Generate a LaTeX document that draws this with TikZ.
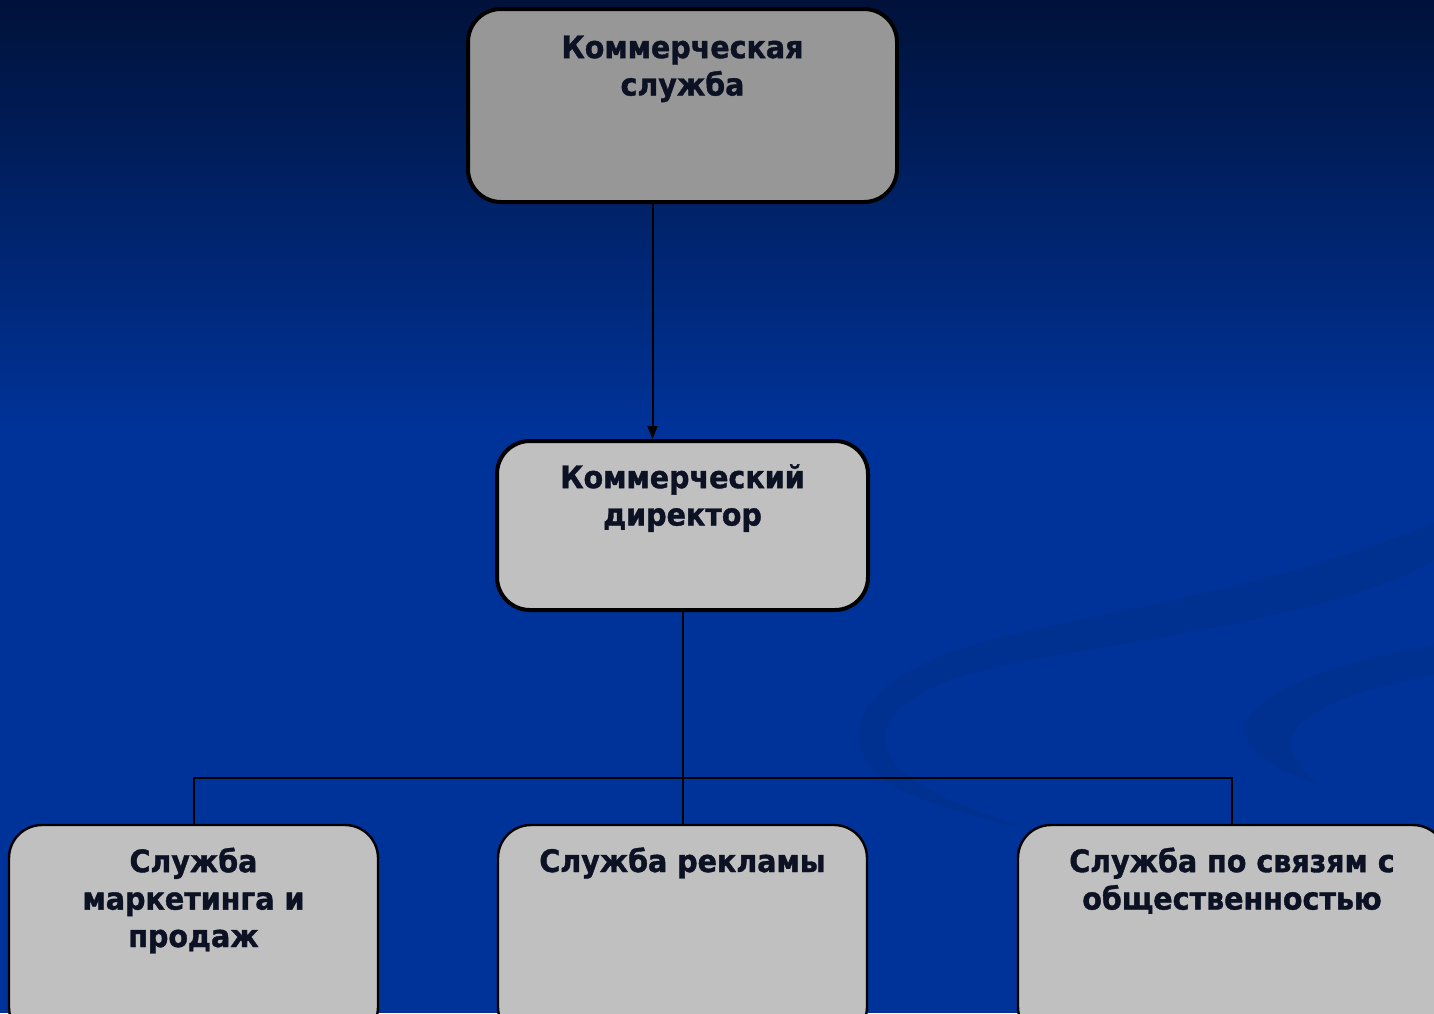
\documentclass[tikz,border=0pt]{standalone}
\usepackage{fontspec}
\setmainfont{DejaVu Sans}[FakeStretch=0.92, BoldFeatures={FakeBold=1.2}]
\usetikzlibrary{arrows.meta}
\definecolor{bgtop}{HTML}{00123A}
\definecolor{bgbot}{HTML}{003399}
\definecolor{swirl}{HTML}{003191}
\definecolor{boxdark}{HTML}{979797}
\definecolor{boxlight}{HTML}{C0C0C0}
\definecolor{txt}{HTML}{0C1224}
\tikzset{
  orgbox/.style={draw=black, rounded corners=16.5pt, inner sep=0pt, fill=boxlight},
  thickbox/.style={orgbox, line width=2pt},
  thinbox/.style={orgbox, line width=1.2pt},
  boxtext/.style={anchor=base, align=center, inner sep=0pt, text=txt,
    font=\fontsize{15.5pt}{18.7pt}\selectfont\bfseries},
  conn/.style={draw=black, line width=1pt},
  arrowconn/.style={conn, -{Triangle[length=6.5pt,width=5pt]}}
}
\begin{document}
\begin{tikzpicture}[x=0.5pt, y=-0.5pt]
\useasboundingbox (0,0) rectangle (1434,1013);
\clip (0,0) rectangle (1434,1013);
% background
\shade[top color=bgtop, bottom color=bgbot] (0,0) rectangle (1434,430);
\fill[bgbot] (0,429) rectangle (1434,1013);
% decorative swirls
\fill[swirl] (1434,523) .. controls (1250,598) and (1060,615) .. (950,652)
  .. controls (850,690) and (835,745) .. (890,785)
  .. controls (930,805) and (990,822) .. (1030,830)
  .. controls (990,815) and (910,790) .. (893,760)
  .. controls (868,720) and (905,685) .. (1020,662)
  .. controls (1150,638) and (1350,612) .. (1434,560) -- cycle;
\fill[swirl] (1434,645) .. controls (1340,660) and (1260,690) .. (1246,722)
  .. controls (1238,745) and (1270,770) .. (1320,785)
  .. controls (1300,770) and (1285,750) .. (1292,735)
  .. controls (1305,705) and (1380,685) .. (1434,675) -- cycle;
% boxes
\node[thickbox, fill=boxdark, minimum width=214.5pt, minimum height=96.5pt] (top) at (682.5,105.5) {};
\node[thickbox, minimum width=185.5pt, minimum height=84.5pt] (mid) at (682.5,525.5) {};
\node[thinbox, minimum width=184.5pt, minimum height=107.5pt] (bl) at (193.5,932.5) {};
\node[thinbox, minimum width=184.5pt, minimum height=107.5pt] (bm) at (682.5,932.5) {};
\node[thinbox, minimum width=214pt, minimum height=107.5pt] (br) at (1232,932.5) {};
% texts (anchored at the baseline of the last line)
\node[boxtext] (ttop) at (682.5,95.5) {Коммерческая\\служба};
\node[boxtext] (tmid) at (682.5,525.5) {Коммерческий\\директор};
\node[boxtext] (tbl) at (193.5,947) {Служба\\маркетинга и\\продаж};
\node[boxtext] (tbm) at (682.5,872) {Служба рекламы};
\node[boxtext] (tbr) at (1232,909.5) {Служба по связям с\\общественностью};
% connectors
\coordinate (bus) at (682.5,778);
\draw[arrowconn] ([xshift=-15pt]top.south) -- ([xshift=-15pt]mid.north);
\draw[conn] (mid.south) -- (bus);
\draw[conn] (bl.north) -- (bl.north |- bus) -- (br.north |- bus) -- (br.north);
\draw[conn] (bm.north) -- (bm.north |- bus);
\end{tikzpicture}
\end{document}
